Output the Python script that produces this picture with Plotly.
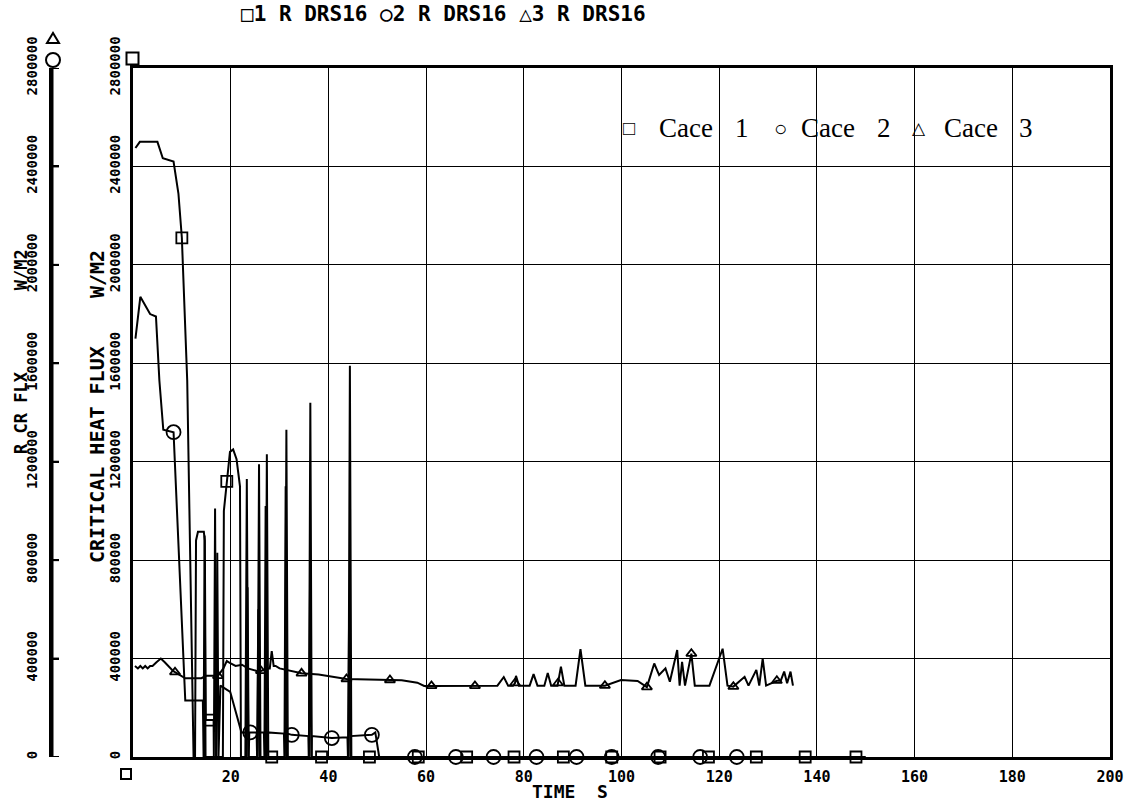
import plotly.graph_objects as go

# ---------------- data ----------------
# Case 1 (square markers): critical heat flux, W/m2, vs time, s
case1_t = [0.5, 1.4, 5.0, 6.1, 8.3, 9.3, 10.0, 10.6, 11.1, 12.4, 12.7, 12.9, 13.3, 14.5, 14.7,
           14.9, 16.5, 16.55, 16.8, 17.05, 18.4, 18.6, 19.2, 19.85, 20.5, 21.2, 21.9, 22.1,
           23.0, 23.3, 23.6, 25.5, 25.8, 26.1, 27.1, 27.4, 27.7, 31.1, 31.4, 31.7,
           36.0, 36.3, 36.6, 44.1, 44.4, 44.7, 150.0]
case1_v = [2475000, 2500000, 2500000, 2433000, 2420000, 2290000, 2110000, 1800000, 1530000, 0, 0,
           880000, 915000, 915000, 880000,
           150000, 150000, 0, 1010000, 0, 0, 1000000, 1120000, 1240000, 1250000, 1210000, 1100000, 0,
           0, 1130000, 0, 0, 1190000, 0, 0, 1230000, 0, 0, 1330000, 0,
           0, 1440000, 0, 0, 1590000, 0, 0]

# Case 2 (circle markers)
case2_t = [0.5, 1.5, 3.5, 4.7, 5.4, 6.2, 8.3, 10.7, 14.3, 14.45, 14.65, 14.85, 17.0, 17.25, 17.5,
           17.9, 19.9, 21.2, 22.2, 23.1, 23.2, 23.45, 23.7, 23.8, 24.0, 25.3, 25.4, 25.65, 25.9,
           26.0, 26.8, 26.9, 27.15, 27.4, 27.5, 30.9, 31.0, 31.25, 31.5, 31.6, 32.5, 35.9, 36.0,
           36.25, 36.5, 36.6, 40.7, 43.9, 44.0, 44.25, 44.5, 44.6, 48.9, 49.6, 50.4, 124.0]
case2_v = [1700000, 1870000, 1800000, 1790000, 1530000, 1330000, 1320000, 230000, 230000, 0, 900000, 0,
           0, 830000, 0,
           290000, 265000, 170000, 100000, 100000, 0, 690000, 0, 100000, 100000, 100000, 0, 600000, 0,
           100000, 100000, 0, 1020000, 0, 100000, 95000, 0, 1100000, 0, 95000, 90000, 85000, 0,
           730000, 0, 85000, 77000, 80000, 0, 600000, 0, 85000, 90000, 100000, 0, 0]

# Case 3 (triangle markers)
case3_t = [0.4, 1.0, 1.5, 2.0, 2.5, 3.0, 3.5, 4.0, 4.8, 5.7, 6.5, 7.2, 8.2, 8.6, 9.0, 10.7, 12.0,
           14.0, 15.0, 16.0, 17.4, 18.5, 19.2, 20.0, 21.0, 22.3, 23.5, 25.3, 26.2, 27.5, 28.0,
           28.4, 28.8, 29.2, 30.0, 34.5, 38.0, 43.7, 47.0, 50.7, 52.6, 55.0, 58.2, 59.6, 61.1,
           65.0, 70.0, 74.6, 75.9, 76.8, 77.8, 78.2, 78.4, 79.0, 81.2, 82.0, 82.8, 84.2, 84.9,
           85.6, 86.9, 87.0, 87.6, 88.3, 90.6, 91.6, 92.6, 96.6, 99.9, 103.3, 105.2, 106.7, 107.7,
           109.0, 109.9, 111.4, 111.9, 112.4, 113.0, 114.3, 115.0, 116.5, 118.0, 120.7, 121.7,
           122.9, 125.2, 126.0, 127.6, 128.2, 128.9, 129.6, 131.8, 132.6, 133.3, 133.9, 134.6, 135.1]
case3_v = [370000, 360000, 370000, 360000, 370000, 360000, 370000, 370000, 385000, 400000, 385000,
           370000, 350000, 345000, 340000, 320000, 320000,
           320000, 330000, 330000, 330000, 360000, 390000, 380000, 370000, 375000, 360000, 350000,
           350000, 360000, 360000,
           430000, 370000, 370000, 360000, 340000, 335000, 317000, 315000, 313000, 313000, 312000,
           302000, 289000, 289000,
           290000, 289000, 290000, 325000, 290000, 290000, 300000, 330000, 290000, 290000, 337000,
           290000, 290000, 341000,
           290000, 290000, 300000, 367000, 290000, 290000, 438000, 290000, 290000, 313000, 309000,
           284000, 380000, 333000,
           360000, 306000, 435000, 290000, 387000, 290000, 420000, 290000, 290000, 290000, 440000,
           290000,
           286000, 326000, 290000, 354000, 290000, 400000, 290000, 310000, 310000, 347000, 300000,
           347000, 290000]

# Plotted symbol positions along each curve
case1_mark_t = [10.0, 15.8, 19.2, 28.4, 38.6, 48.4, 58.4, 68.3, 78.0, 88.1, 98.0, 107.9, 117.8,
                127.6, 137.6, 148.0]
case1_mark_v = [2110000, 150000, 1120000, 0, 0, 0, 0, 0, 0, 0, 0, 0, 0, 0, 0, 0]
case2_mark_t = [8.3, 24.0, 32.5, 40.7, 48.9, 57.7, 66.1, 73.8, 82.6, 90.8, 98.0, 107.5, 116.1, 123.6]
case2_mark_v = [1320000, 100000, 90000, 77000, 90000, 0, 0, 0, 0, 0, 0, 0, 0, 0]
case3_mark_t = [8.6, 17.4, 26.2, 34.5, 43.7, 52.6, 61.1, 70.0, 78.2, 87.0, 96.6, 105.2, 114.3,
                122.9, 131.8]
case3_mark_v = [345000, 330000, 350000, 340000, 317000, 313000, 289000, 289000, 300000, 300000,
                290000, 284000, 420000, 286000, 310000]

x_ticks = [20, 40, 60, 80, 100, 120, 140, 160, 180, 200]
y_ticks = [0, 400000, 800000, 1200000, 1600000, 2000000, 2400000, 2800000]
y_ticktext = [str(v) for v in y_ticks]
Y_MAX = 2800000

# ---------------- layout helpers ----------------
W, H = 1128, 809
ML, MR, MT, MB = 10, 18, 68, 52
PW, PH = W - ML - MR, H - MT - MB


def px(x):
    return (x - ML) / PW


def py(y):
    return (H - MB - y) / PH


PLOT_FONT = "DejaVu Sans Mono"
INK = "black"

fig = go.Figure()

line_style = dict(color=INK, width=2)
for t, v in [(case1_t, case1_v), (case2_t, case2_v), (case3_t, case3_v)]:
    fig.add_trace(go.Scatter(x=t, y=v, mode="lines", line=line_style,
                             showlegend=False, hoverinfo="skip"))

for t, v, sym, size in [(case1_mark_t, case1_mark_v, "square-open", 11),
                        (case2_mark_t, case2_mark_v, "circle-open", 14),
                        (case3_mark_t, case3_mark_v, "triangle-up-open", 9)]:
    fig.add_trace(go.Scatter(x=t, y=v, mode="markers", cliponaxis=False,
                             marker=dict(symbol=sym, size=size, color=INK,
                                         line=dict(color=INK, width=1.8)),
                             showlegend=False, hoverinfo="skip"))

# outer value axis lives in its own narrow subplot (x2, y2): spine plus inward ticks
fig.add_trace(go.Scatter(x=[0, 0], y=[0, Y_MAX], xaxis="x2", yaxis="y2", mode="lines",
                         line=dict(color=INK, width=3), cliponaxis=False,
                         showlegend=False, hoverinfo="skip"))
for v in y_ticks:
    fig.add_trace(go.Scatter(x=[0, 1], y=[v, v], xaxis="x2", yaxis="y2", mode="lines",
                             line=dict(color=INK, width=2), cliponaxis=False,
                             showlegend=False, hoverinfo="skip"))

tick_font = dict(family=PLOT_FONT, size=14, color=INK, weight="bold")

fig.update_layout(
    width=W, height=H,
    margin=dict(l=ML, r=MR, t=MT, b=MB),
    paper_bgcolor="white", plot_bgcolor="white",
    xaxis=dict(domain=[px(133), 1], range=[0, 200], tickvals=x_ticks,
               ticktext=[str(v) for v in x_ticks],
               tickfont=dict(family=PLOT_FONT, size=15, color=INK, weight="bold"),
               ticks="", ticklabelstandoff=4,
               showgrid=True, gridcolor=INK, gridwidth=1, zeroline=False,
               showline=True, linecolor=INK, linewidth=3, mirror=True,
               automargin=False),
    yaxis=dict(range=[0, Y_MAX], tickvals=y_ticks, ticktext=y_ticktext,
               tickangle=-90, tickfont=tick_font, ticks="", ticklabelstandoff=4,
               showgrid=True, gridcolor=INK, gridwidth=1, zeroline=False,
               showline=True, linecolor=INK, linewidth=3, mirror=True,
               automargin=False),
    xaxis2=dict(domain=[px(52), px(59)], range=[0, 1], visible=False, anchor="y2"),
    yaxis2=dict(domain=[0, 1], range=[0, Y_MAX], tickvals=y_ticks, ticktext=y_ticktext,
                anchor="x2", side="left",
                tickangle=-90, tickfont=tick_font, ticks="inside", ticklen=7, tickwidth=2,
                tickcolor=INK, ticklabelstandoff=6,
                showgrid=False, zeroline=False, showline=True, linecolor=INK, linewidth=3,
                automargin=False),
)

annotations = [
    dict(text="□1 R DRS16 ○2 R DRS16 △3 R DRS16", x=px(443), y=py(14),
         font=dict(family=PLOT_FONT, size=21, color=INK, weight="bold")),
    dict(text="CRITICAL HEAT FLUX    W/M2", x=px(97), y=py(407), textangle=-90,
         font=dict(family=PLOT_FONT, size=20, color=INK, weight="bold")),
    dict(text="R CR FLX        W/M2", x=px(21), y=py(352), textangle=-90,
         font=dict(family=PLOT_FONT, size=17, color=INK, weight="bold")),
    dict(text="TIME  S", x=px(570), y=py(792),
         font=dict(family=PLOT_FONT, size=18, color=INK, weight="bold")),
]
for txt, xc, fs in [("□", 629, 20), ("Cace", 686, 27), ("1", 742, 27), ("○", 780, 22),
                    ("Cace", 828, 27), ("2", 884, 27), ("△", 919, 17), ("Cace", 971, 27),
                    ("3", 1026, 27)]:
    annotations.append(dict(text=txt, x=px(xc), y=py(128),
                            font=dict(family="Liberation Serif", size=fs, color=INK)))

for a in annotations:
    a.update(xref="paper", yref="paper", showarrow=False, xanchor="center", yanchor="middle")
fig.update_layout(annotations=annotations)

# axis identification symbols at the ends of the value axes
sym_line = dict(color=INK, width=2)
shapes = [
    dict(type="rect", x0=px(126.5), x1=px(138.5), y0=py(64.5), y1=py(52.5), line=sym_line,
         fillcolor="white"),
    dict(type="circle", x0=px(46), x1=px(60), y0=py(67), y1=py(53), line=sym_line,
         fillcolor="white"),
    dict(type="path",
         path=f"M {px(47)},{py(43)} L {px(59)},{py(43)} L {px(53)},{py(33)} Z",
         line=sym_line),
    dict(type="rect", x0=px(121), x1=px(131), y0=py(779), y1=py(769), line=sym_line),
]
for s in shapes:
    s.update(xref="paper", yref="paper")
fig.update_layout(shapes=shapes)

fig.write_html("out.html")
